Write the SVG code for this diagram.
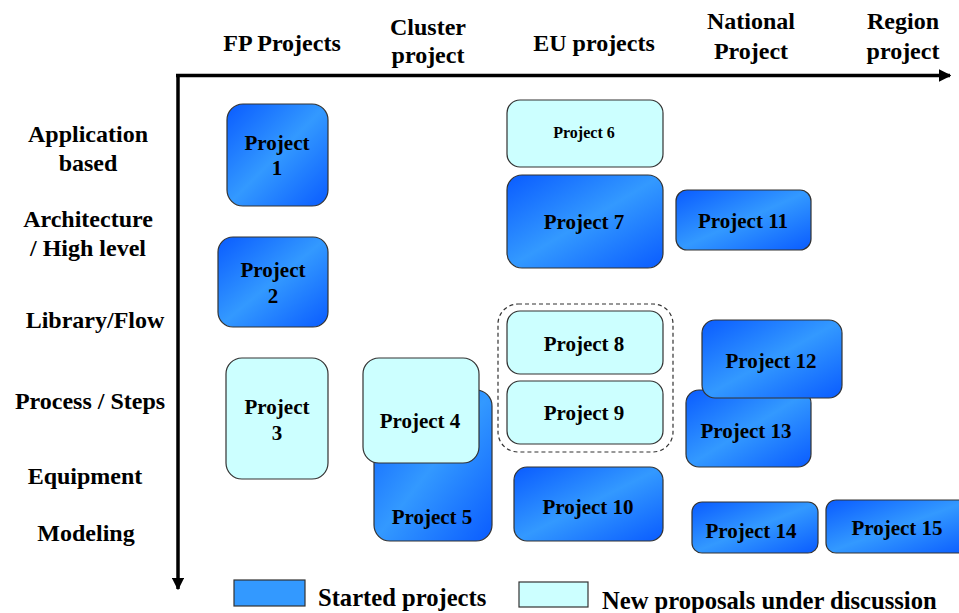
<svg xmlns="http://www.w3.org/2000/svg" width="959" height="613" viewBox="0 0 959 613">
<defs>
<linearGradient id="blueGrad" x1="0" y1="0" x2="1" y2="1">
<stop offset="0" stop-color="#0a5cff"/>
<stop offset="0.5" stop-color="#3399ff"/>
<stop offset="1" stop-color="#0a5cff"/>
</linearGradient>
<marker id="arrow" viewBox="0 0 10 10" refX="9" refY="5" markerWidth="3.6" markerHeight="3.6" orient="auto" markerUnits="strokeWidth">
<path d="M0,0 L10,5 L0,10 Z" fill="#000"/>
</marker>
</defs>
<style>
text{font-family:"Liberation Serif","Times New Roman",serif;font-weight:bold;fill:#000}
.hdr{font-size:24px;text-anchor:middle}
.row{font-size:24px;text-anchor:middle}
.lbl{font-size:21px;text-anchor:middle}
.small{font-size:16px;text-anchor:middle}
.started{fill:url(#blueGrad);stroke:#333;stroke-width:1.2}
.proposal{fill:#ccffff;stroke:#333;stroke-width:1.2}
.axis{stroke:#000;stroke-width:3.5;fill:none}
.legtxt{font-size:24.6px}
</style>
<rect width="959" height="613" fill="#fff"/>

<g id="axes">
<line class="axis" x1="176" y1="75.5" x2="950" y2="75.5" marker-end="url(#arrow)"/>
<line class="axis" x1="178" y1="74" x2="178" y2="589" marker-end="url(#arrow)"/>
</g>

<g id="column-headers">
<text class="hdr" x="282" y="51">FP Projects</text>
<text class="hdr" x="428" y="35">Cluster</text>
<text class="hdr" x="428" y="63">project</text>
<text class="hdr" x="594" y="51">EU projects</text>
<text class="hdr" x="751" y="29">National</text>
<text class="hdr" x="751" y="59">Project</text>
<text class="hdr" x="903" y="29">Region</text>
<text class="hdr" x="903" y="59">project</text>
</g>

<g id="row-headers">
<text class="row" x="88" y="142">Application</text>
<text class="row" x="88" y="171">based</text>
<text class="row" x="88" y="227">Architecture</text>
<text class="row" x="88" y="256">/ High level</text>
<text class="row" x="95" y="328">Library/Flow</text>
<text class="row" x="90" y="409">Process / Steps</text>
<text class="row" x="85" y="484">Equipment</text>
<text class="row" x="86" y="541">Modeling</text>
</g>

<g id="connectors"></g>

<g id="group-8-9">
<rect x="498" y="304" width="175" height="148" rx="20" ry="20" fill="none" stroke="#333" stroke-width="1.2" stroke-dasharray="4,3"/>
</g>

<g id="project1">
<rect class="started" x="227" y="104" width="101" height="102" rx="16"/>
<text class="lbl" x="277" y="150">Project</text>
<text class="lbl" x="277" y="175">1</text>
</g>
<g id="project2">
<rect class="started" x="218" y="237" width="110" height="90" rx="15"/>
<text class="lbl" x="273" y="277">Project</text>
<text class="lbl" x="273" y="303">2</text>
</g>
<g id="project3">
<rect class="proposal" x="226" y="358" width="102" height="121" rx="16"/>
<text class="lbl" x="277" y="414">Project</text>
<text class="lbl" x="277" y="440">3</text>
</g>
<g id="project5">
<rect class="started" x="374" y="390" width="118" height="151" rx="16"/>
<text class="lbl" x="432" y="524">Project 5</text>
</g>
<g id="project4">
<rect class="proposal" x="363" y="358" width="116" height="105" rx="16"/>
<text class="lbl" x="420" y="428">Project 4</text>
</g>
<g id="project6">
<rect class="proposal" x="507" y="100" width="156" height="67" rx="13"/>
<text class="small" x="584" y="138">Project 6</text>
</g>
<g id="project7">
<rect class="started" x="507" y="175" width="156" height="93" rx="15"/>
<text class="lbl" x="584" y="229">Project 7</text>
</g>
<g id="project8">
<rect class="proposal" x="507" y="311" width="156" height="63" rx="13"/>
<text class="lbl" x="584" y="351">Project 8</text>
</g>
<g id="project9">
<rect class="proposal" x="507" y="381" width="156" height="63" rx="13"/>
<text class="lbl" x="584" y="420">Project 9</text>
</g>
<g id="project10">
<rect class="started" x="514" y="467" width="149" height="74" rx="13"/>
<text class="lbl" x="588" y="514">Project 10</text>
</g>
<g id="project11">
<rect class="started" x="676" y="190" width="135" height="60" rx="11"/>
<text class="lbl" x="743" y="228">Project 11</text>
</g>
<g id="project13">
<rect class="started" x="686" y="390" width="125" height="77" rx="13"/>
<text class="lbl" x="746" y="438">Project 13</text>
</g>
<g id="project12">
<rect class="started" x="702" y="320" width="140" height="78" rx="13"/>
<text class="lbl" x="771" y="368">Project 12</text>
</g>
<g id="project14">
<rect class="started" x="692" y="502" width="126" height="51" rx="10"/>
<text class="lbl" x="751" y="538">Project 14</text>
</g>
<g id="project15">
<rect class="started" x="826" y="500" width="145" height="53" rx="10"/>
<text class="lbl" x="897" y="535">Project 15</text>
</g>

<g id="legend">
<rect x="234" y="580" width="71" height="26" fill="#3399ff" stroke="#333" stroke-width="1.2"/>
<text class="legtxt" x="318" y="606">Started projects</text>
<rect x="519" y="582" width="69" height="25" fill="#ccffff" stroke="#333" stroke-width="1.2"/>
<text class="legtxt" x="602" y="609">New proposals under discussion</text>
</g>
</svg>
